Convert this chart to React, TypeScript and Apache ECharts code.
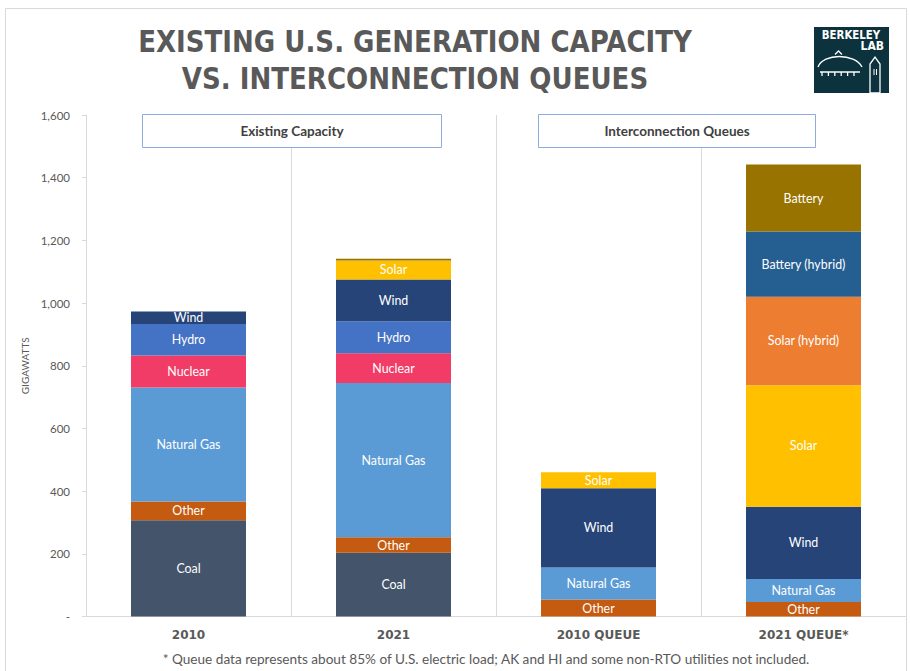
import React, { useEffect, useRef } from "react";
import * as echarts from "echarts";

const categories = ["2010", "2021", "2010 QUEUE", "2021 QUEUE*"];
const yTicks = [0, 200, 400, 600, 800, 1000, 1200, 1400, 1600];

const coal = [307, 203, 0, 0];
const other = [60, 50, 54, 46];
const naturalGas = [364, 492, 102, 74];
const nuclear = [102, 95, 0, 0];
const hydro = [100, 102, 0, 0];
const wind = [40, 133, 253, 230];
const solar = [0, 61, 51, 388];
const solarHybrid = [0, 0, 0, 282];
const batteryHybrid = [0, 0, 0, 208];
const battery = [0, 5, 0, 214];

const seriesDefs: [string, number[], string][] = [
  ["Coal", coal, "#44546A"],
  ["Other", other, "#C55A11"],
  ["Natural Gas", naturalGas, "#5B9BD5"],
  ["Nuclear", nuclear, "#F23C68"],
  ["Hydro", hydro, "#4472C4"],
  ["Wind", wind, "#264478"],
  ["Solar", solar, "#FFC000"],
  ["Solar (hybrid)", solarHybrid, "#ED7D31"],
  ["Battery (hybrid)", batteryHybrid, "#255E91"],
  ["Battery", battery, "#997300"],
];

const GRAY = "#595959";
const LINE = "#D9D9D9";
const TITLE_FONT = "bold 31px 'Liberation Sans Narrow', 'DejaVu Sans Condensed', 'Open Sans', sans-serif";
const LOGO_FONT = "bold 12px 'DejaVu Sans Condensed', 'Liberation Sans Narrow', sans-serif";

function logoElements() {
  const els: any[] = [
    { type: "rect", shape: { x: 814, y: 27, width: 75, height: 66 }, style: { fill: "#0B323D" } },
    {
      type: "text", x: 851, y: 29, scaleX: 0.95,
      style: { text: "BERKELEY", fill: "#fff", font: LOGO_FONT, textAlign: "center" },
    },
    {
      type: "text", x: 884, y: 40,
      style: { text: "LAB", fill: "#fff", font: LOGO_FONT, textAlign: "right" },
    },
    {
      type: "bezierCurve",
      shape: { x1: 818, y1: 67, cpx1: 823, cpy1: 53, cpx2: 855, cpy2: 53, x2: 862, y2: 67 },
      style: { stroke: "#fff", lineWidth: 1.4, fill: null },
    },
    { type: "polyline", shape: { points: [[835, 54.5], [838.5, 51], [842, 54.5]] }, style: { stroke: "#fff", lineWidth: 1.3, fill: null } },
    { type: "line", shape: { x1: 820, y1: 72, x2: 860, y2: 72 }, style: { stroke: "#fff", lineWidth: 1.3 } },
    {
      type: "polygon",
      shape: { points: [[870, 93], [870, 64], [875, 57], [880, 64], [880, 93]] },
      style: { stroke: "#fff", lineWidth: 1.3, fill: null },
    },
    { type: "line", shape: { x1: 874, y1: 69, x2: 874, y2: 75 }, style: { stroke: "#fff", lineWidth: 1 } },
    { type: "line", shape: { x1: 876.5, y1: 69, x2: 876.5, y2: 75 }, style: { stroke: "#fff", lineWidth: 1 } },
  ];
  for (let i = 0; i < 6; i++) {
    const x = 822 + i * 6.4;
    els.push({ type: "line", shape: { x1: x, y1: 72, x2: x, y2: 76 }, style: { stroke: "#fff", lineWidth: 1.3 } });
  }
  return els;
}

export default function App() {
  const ref = useRef<HTMLDivElement>(null);
  useEffect(() => {
    document.body.style.margin = "0";
    if (!ref.current) return;
    const chart = echarts.init(ref.current, null, { renderer: "svg" });
    const labelFont = "Lato, 'Open Sans', sans-serif";
    const series = seriesDefs.map(([name, values, color]) => ({
      name,
      type: "bar",
      stack: "total",
      barWidth: 115,
      itemStyle: { color },
      data: values.map((v) => ({
        value: v,
        label: { show: v >= 20 },
      })),
      label: {
        show: true,
        position: "inside",
        formatter: "{a}",
        color: "#fff",
        fontSize: 12.4,
        fontFamily: labelFont,
      },
    }));
    chart.setOption({
      animation: false,
      backgroundColor: "#fff",
      grid: { left: 86, right: 4, top: 115, bottom: 54.5, containLabel: false },
      xAxis: {
        type: "category",
        data: categories,
        axisLine: { show: true, lineStyle: { color: LINE } },
        axisTick: { show: false },
        splitLine: { show: true, lineStyle: { color: LINE, width: 1 } },
        axisLabel: {
          color: GRAY,
          fontWeight: "bold",
          fontSize: 12,
          fontFamily: "'DejaVu Sans', sans-serif",
          margin: 12,
        },
      },
      yAxis: {
        type: "value",
        min: yTicks[0],
        max: yTicks[yTicks.length - 1],
        interval: 200,
        name: "GIGAWATTS",
        nameLocation: "middle",
        nameRotate: 90,
        nameGap: 48,
        nameTextStyle: { color: GRAY, fontSize: 10, fontFamily: labelFont },
        axisLine: { show: true, lineStyle: { color: LINE } },
        axisTick: { show: true, length: 4, lineStyle: { color: LINE } },
        splitLine: { show: false },
        axisLabel: {
          color: GRAY,
          fontSize: 11.5,
          fontFamily: labelFont,
          margin: 16,
          formatter: (v: number) => (v === 0 ? "-" : v.toLocaleString("en-US")),
        },
      },
      series,
      graphic: [
        {
          type: "rect",
          shape: { x: 5.5, y: 8.5, width: 901, height: 700 },
          style: { stroke: LINE, fill: null, lineWidth: 1 },
          silent: true,
        },
        {
          type: "text", x: 415, y: 41, scaleX: 0.935,
          style: {
            text: "EXISTING U.S. GENERATION CAPACITY",
            fill: GRAY, font: TITLE_FONT,
            textAlign: "center", textVerticalAlign: "middle",
          },
        },
        {
          type: "text", x: 415, y: 78, scaleX: 0.935,
          style: {
            text: "VS. INTERCONNECTION QUEUES",
            fill: GRAY, font: TITLE_FONT,
            textAlign: "center", textVerticalAlign: "middle",
          },
        },
        {
          type: "rect", z: 10,
          shape: { x: 142.5, y: 114.5, width: 299, height: 33 },
          style: { fill: "#fff", stroke: "#8FAADC", lineWidth: 1 },
        },
        {
          type: "text", z: 11, x: 292, y: 131,
          style: { text: "Existing Capacity", fill: "#404040", font: "bold 13.5px Lato, sans-serif", textAlign: "center", textVerticalAlign: "middle" },
        },
        {
          type: "rect", z: 10,
          shape: { x: 538.5, y: 114.5, width: 277, height: 33 },
          style: { fill: "#fff", stroke: "#8FAADC", lineWidth: 1 },
        },
        {
          type: "text", z: 11, x: 677, y: 131,
          style: { text: "Interconnection Queues", fill: "#404040", font: "bold 13.5px Lato, sans-serif", textAlign: "center", textVerticalAlign: "middle" },
        },
        {
          type: "text", x: 486, y: 659,
          style: {
            text: "* Queue data represents about 85% of U.S. electric load; AK and HI and some non-RTO utilities not included.",
            fill: GRAY, font: "13.6px Lato, 'Open Sans', sans-serif", textAlign: "center", textVerticalAlign: "middle",
          },
        },
        ...logoElements(),
      ],
    });
    return () => chart.dispose();
  }, []);
  return <div ref={ref} style={{ width: 910, height: 671 }} />;
}
